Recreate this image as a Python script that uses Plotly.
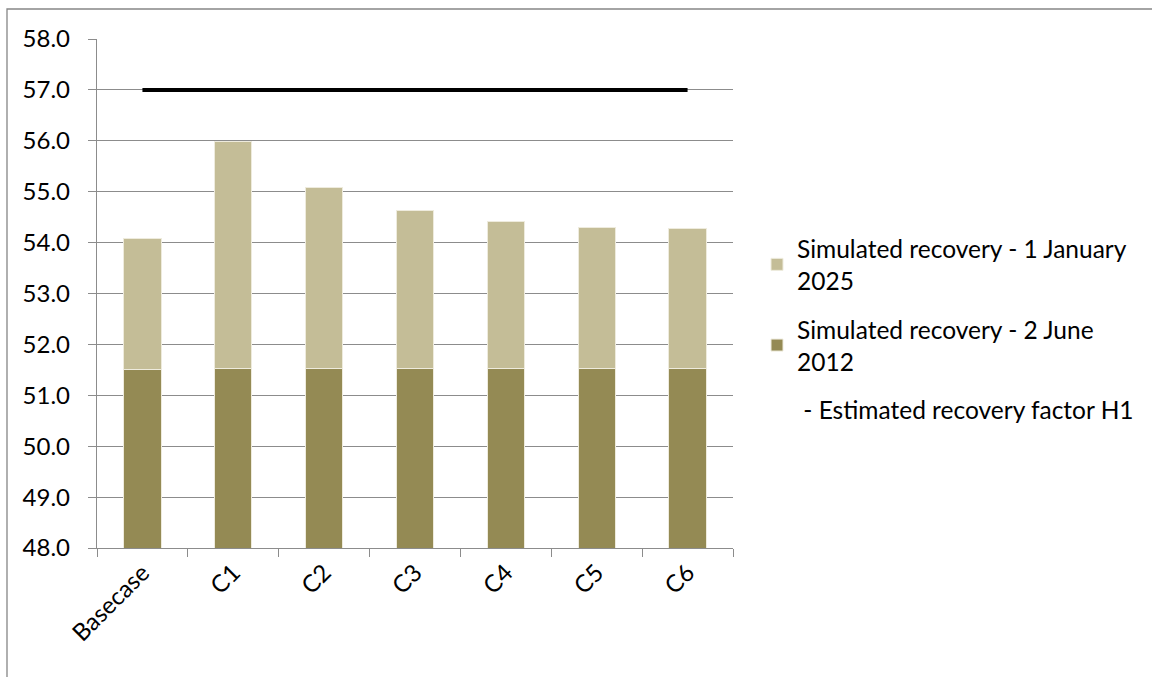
import plotly.graph_objects as go

# Recovery factor (%) per case
cases = ["Basecase", "C1", "C2", "C3", "C4", "C5", "C6"]
recovery_2012 = [51.50, 51.52, 51.52, 51.52, 51.52, 51.52, 51.52]
recovery_2025 = [54.09, 55.98, 55.09, 54.63, 54.42, 54.29, 54.28]
estimated_h1 = [57.0, 57.0, 57.0, 57.0, 57.0, 57.0, 57.0]

# the top segment of each stacked bar is the increment 2012 -> 2025
increment = [round(t - b, 2) for t, b in zip(recovery_2025, recovery_2012)]

FONT = "Lato"
FS = 24
LEG_FS = 24.5
DARK = "#948A54"
LIGHT = "#C4BD97"
GRID = "#8C8C8C"

W, H = 1152, 677
L, R, T, B = 97, 733, 39, 548

fig = go.Figure()
fig.add_trace(go.Bar(
    x=cases, y=recovery_2012, name="Simulated recovery - 2 June<br>2012",
    marker=dict(color=DARK, line=dict(color="#EEEBDD", width=1)),
    legendrank=2, legendgroup="g2",
))
fig.add_trace(go.Bar(
    x=cases, y=increment, name="Simulated recovery - 1 January<br>2025",
    marker=dict(color=LIGHT, line=dict(color="#EEEBDD", width=1)),
    legendrank=1, legendgroup="g1",
))
fig.add_trace(go.Scatter(
    x=cases, y=estimated_h1, mode="lines", showlegend=False,
    line=dict(color="black", width=4),
))
# legend label for the reference line (text only)
fig.add_trace(go.Scatter(
    x=[None], y=[None], mode="lines", name=" - Estimated recovery factor H1",
    line=dict(color="rgba(0,0,0,0)", width=0), legendrank=3, legendgroup="g3",
))

def px_x(px):
    return (px - L) / (R - L)

def px_y(py):
    return (B - py) / (B - T)

fig.update_layout(
    width=W, height=H,
    margin=dict(l=L, r=W - R, t=T, b=H - B, pad=0, autoexpand=False),
    barmode="stack", bargap=0.59,
    plot_bgcolor="white", paper_bgcolor="white",
    font=dict(family=FONT, size=FS, color="black"),
    legend=dict(
        x=px_x(757), y=px_y(226), xanchor="left", yanchor="top",
        traceorder="grouped", font=dict(family=FONT, size=LEG_FS),
        tracegroupgap=14, itemwidth=30, bgcolor="rgba(0,0,0,0)",
    ),
    shapes=[dict(
        type="rect", xref="paper", yref="paper",
        x0=px_x(7), x1=px_x(1165), y0=px_y(690), y1=px_y(9),
        line=dict(color="#868686", width=1.3), layer="below",
    )],
)
fig.update_yaxes(
    range=[48, 58], dtick=1, tickformat=".1f",
    showgrid=True, gridcolor=GRID, gridwidth=1.3,
    showline=True, linecolor=GRID, linewidth=1.3,
    ticks="outside", ticklen=8, tickcolor=GRID, tickwidth=1.3,
    ticklabelstandoff=13, zeroline=False,
)
fig.update_xaxes(
    showline=True, linecolor=GRID, linewidth=1.3,
    ticks="outside", ticklen=8, tickcolor=GRID, tickwidth=1.3,
    tickson="boundaries", tickangle=-45, showgrid=False,
)

fig.write_html("out.html")
